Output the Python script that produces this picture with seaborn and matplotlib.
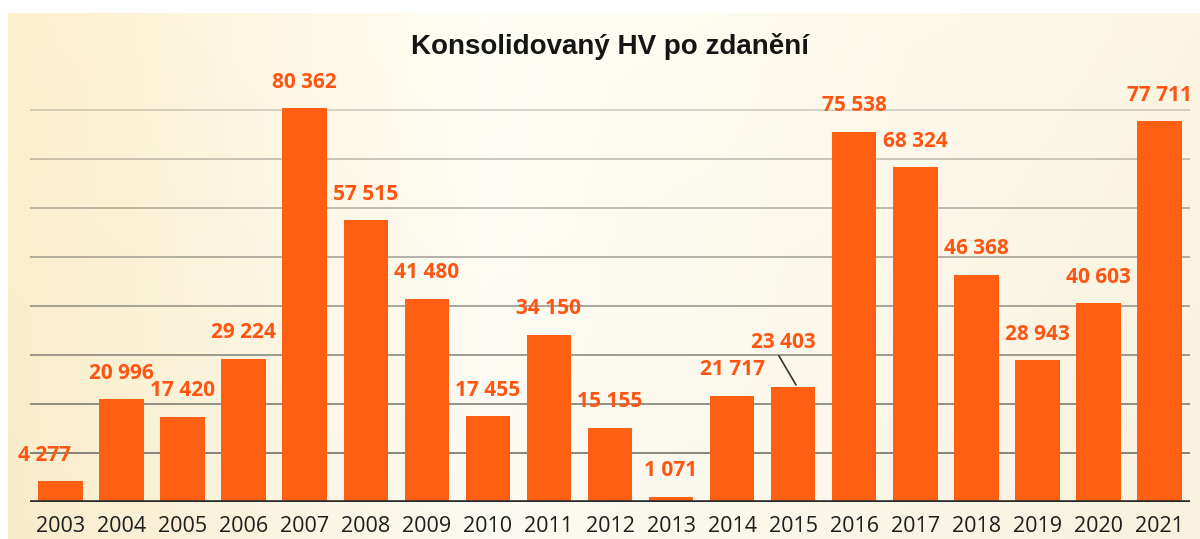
import matplotlib
matplotlib.use("Agg")
import matplotlib.pyplot as plt
import seaborn as sns
import numpy as np
import pandas as pd

# data
years = [str(y) for y in range(2003, 2022)]
values = [4277, 20996, 17420, 29224, 80362, 57515, 41480, 17455, 34150, 15155,
          1071, 21717, 23403, 75538, 68324, 46368, 28943, 40603, 77711]
value_labels = ["4 277", "20 996", "17 420", "29 224", "80 362", "57 515", "41 480",
                "17 455", "34 150", "15 155", "1 071", "21 717", "23 403", "75 538",
                "68 324", "46 368", "28 943", "40 603", "77 711"]
title = "Konsolidovaný HV po zdanění"

df = pd.DataFrame({"Rok": years, "HV": values})

sns.set_theme(style="white")
plt.rcParams['font.family'] = ['Open Sans', 'DejaVu Sans']

fig = plt.figure(figsize=(12, 5.39), dpi=100)
fig.patch.set_facecolor("white")

# pale cream gradient panel behind the chart
bg = fig.add_axes([8 / 1200, 0, 1 - 8 / 1200, 1 - 13 / 539], zorder=0)
xs = np.linspace(0, 1, 256)
c_left = np.array([252, 240, 205]) / 255
c_mid = np.array([255, 254, 246]) / 255
c_right = np.array([252, 245, 226]) / 255
w = np.clip(xs / 0.4, 0, 1)[:, None]
w2 = np.clip((xs - 0.4) / 0.6, 0, 1)[:, None]
row = np.where(xs[:, None] < 0.4, c_left * (1 - w) + c_mid * w, c_mid * (1 - w2) + c_right * w2)
vert = np.linspace(1.0, 0.985, 64)[:, None, None]
grad = np.clip(row[None, :, :] * vert, 0, 1)
bg.imshow(grad, aspect="auto", extent=[0, 1, 0, 1], origin="upper")
bg.axis("off")

ax = fig.add_axes([30 / 1200, 1 - 502 / 539, 1160 / 1200, 490 / 539], zorder=1)
ax.patch.set_alpha(0)

bar_color = "#ff5f12"
sns.barplot(data=df, x="Rok", y="HV", color=bar_color, saturation=1, width=0.73,
            linewidth=0, edgecolor="none", ax=ax, zorder=3)

ax.set_xlim(-0.5, len(years) - 0.5)
ax.set_ylim(0, 100000)

# horizontal grid, lighter towards the top
for i, gy in enumerate(range(10000, 90000, 10000)):
    ax.axhline(gy, color="#5e5e58", lw=1.3, alpha=0.8 - 0.075 * i, zorder=1)
ax.axhline(0, color="#2a2a2a", lw=2.6, zorder=4)

for s in ax.spines.values():
    s.set_visible(False)
ax.set_yticks([])
ax.set_xlabel("")
ax.set_ylabel("")
ax.tick_params(axis="x", length=0, pad=10, labelsize=15.5, labelcolor="#1e1e1e")

# value labels above bars (a couple nudged like in the original)
nudge = {"2003": (-16, 0), "2015": (-10, 19)}
for i, (yr, v, lab) in enumerate(zip(years, values, value_labels)):
    dx, dy = nudge.get(yr, (0, 0))
    ax.annotate(lab, (i, v), xytext=(dx, 26 + dy), textcoords="offset pixels",
                ha="center", va="center", fontsize=15, fontweight="bold",
                color="#ff5512", zorder=5)

# leader line for 2015
i15 = years.index("2015")
ax.annotate("", xy=(i15 + 0.07, values[i15]), xytext=(-20, 34), textcoords="offset pixels",
            xycoords="data",
            arrowprops=dict(arrowstyle="-", color="#333333", lw=1.2), zorder=5)

fig.text(610 / 1200, 1 - 46 / 539, title, ha="center", va="center",
         fontsize=20, fontweight="bold", color="#151515",
         family=["Liberation Sans", "DejaVu Sans"])

fig.savefig("out.png", dpi=100)
